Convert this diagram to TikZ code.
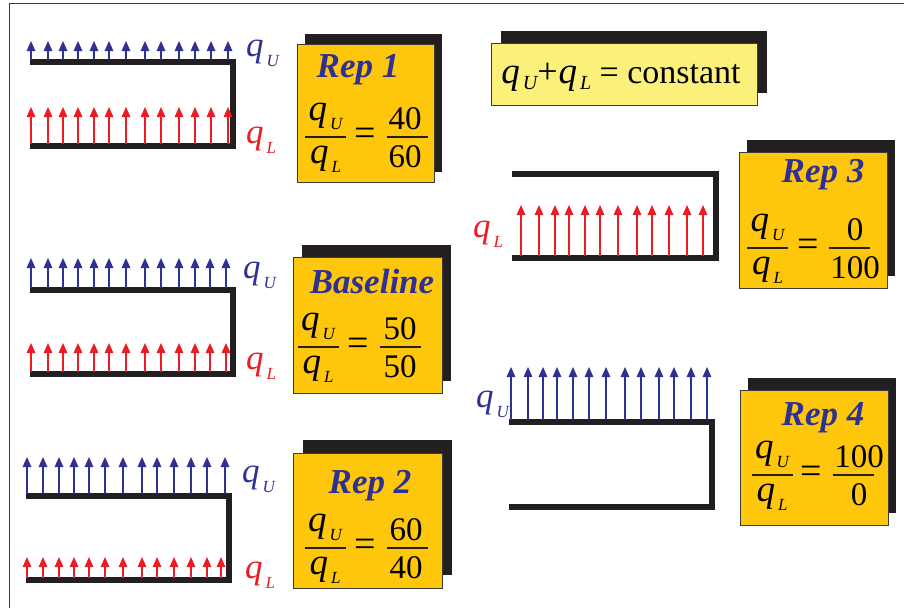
\documentclass[tikz,border=0pt]{standalone}
\usepackage{fontspec}
\setmainfont{Liberation Serif}
\usetikzlibrary{arrows.meta}
\definecolor{qblue}{RGB}{46,49,146}
\definecolor{qred}{RGB}{237,28,36}
\definecolor{barblk}{RGB}{35,31,32}
\definecolor{boxyel}{RGB}{255,199,12}
\definecolor{paleyel}{RGB}{250,240,122}
\definecolor{framegray}{RGB}{60,60,60}
\newcommand{\qsub}[4]{{\fontsize{#2}{#2}\selectfont\itshape q}\kern3pt\raisebox{-#4}{\fontsize{#3}{#3}\selectfont\itshape #1}}
\tikzset{
  wall/.style={line width=5.5pt, draw=barblk, line join=miter},
  upflux/.style={draw=qblue, line width=1.4pt, -{Triangle[length=10pt,width=8.5pt]}},
  loflux/.style={draw=qred, line width=1.4pt, -{Triangle[length=10pt,width=8.5pt]}},
  shadowbox/.style={fill=barblk},
  repbox/.style={fill=boxyel, draw=framegray, line width=0.8pt},
  constbox/.style={fill=paleyel, draw=framegray, line width=0.8pt},
  titletext/.style={text=qblue, font=\fontsize{35}{35}\selectfont\bfseries\itshape, anchor=base, inner sep=0pt},
  numtext/.style={font=\fontsize{33}{33}\selectfont, anchor=base, inner sep=0pt},
  eqtext/.style={font=\fontsize{38}{38}\selectfont, anchor=center, inner sep=0pt},
  qtext/.style={anchor=base, inner sep=0pt},
  ulabel/.style={text=qblue, anchor=base west, inner sep=0pt},
  llabel/.style={text=qred, anchor=base west, inner sep=0pt},
  fracbar/.style={line width=1.2pt, draw=barblk},
}
% #1 prefix, #2 bar y, #3 left centre x, #4 eq x, #5 right bar centre x, #6 number centre x, #7 num, #8 den
\newcommand{\ratio}[8]{%
  \draw[fracbar] ({#3-20.5},#2) -- ({#3+20.5},#2);
  \draw[fracbar] ({#5-20.5},#2) -- ({#5+20.5},#2);
  \node[qtext] (#1qu) at (#3,{#2-17}) {\qsub{U}{37}{17}{9pt}};
  \node[qtext] (#1ql) at (#3,{#2+26}) {\qsub{L}{37}{17}{9pt}};
  \node[eqtext] (#1eq) at (#4,#2) {=};
  \node[numtext] (#1n) at (#6,{#2-8}) {#7};
  \node[numtext] (#1d) at (#6,{#2+30}) {#8};
}
% #1 x1, #2 y1, #3 x2, #4 y2, #5 dx, #6 dy, #7 style
\newcommand{\shbox}[7]{%
  \fill[shadowbox] ({#1+#5},{#2+#6}) rectangle ({#3+#5},{#4+#6});
  \draw[#7] (#1,#2) rectangle (#3,#4);
}
\begin{document}
\begin{tikzpicture}[x=1pt,y=-1pt]
\useasboundingbox (0,0) rectangle (904,608);
\fill[white] (0,0) rectangle (904,608);
\draw[draw=framegray, line width=1pt] (9,608) -- (9,3) -- (904,3);

% ---------- Group Rep 1 ----------
\draw[wall] (30,62) -- (233,62) -- (233,146) -- (30,146);
\foreach \x in {31,48,63,78,94,109,126,145,161,179,195,211,228}{
  \draw[upflux] (\x,59.5) -- (\x,41);
  \draw[loflux] (\x,143.5) -- (\x,107);
}
\node[ulabel] (g1u) at (246,56) {\qsub{U}{35}{17}{10pt}};
\node[llabel] (g1l) at (246,143) {\qsub{L}{35}{17}{10pt}};
\shbox{297}{44}{434}{182}{8}{-10}{repbox}
\node[titletext] (t1) at (358,77) {Rep 1};
\ratio{r1}{137}{325.5}{365}{407}{405}{40}{60}

% ---------- Group Baseline ----------
\draw[wall] (30,290) -- (233,290) -- (233,374) -- (30,374);
\foreach \x in {31,48,63,78,94,109,126,145,161,179,195,210,226}{
  \draw[upflux] (\x,287.5) -- (\x,258);
  \draw[loflux] (\x,371.5) -- (\x,343);
}
\node[ulabel] (gbu) at (243,278) {\qsub{U}{35}{17}{10pt}};
\node[llabel] (gbl) at (246,369) {\qsub{L}{35}{17}{10pt}};
\shbox{293}{257}{442}{393}{9}{-12}{repbox}
\node[titletext] (tb) at (372,293) {Baseline};
\ratio{rb}{347}{318}{358}{400}{400}{50}{50}

% ---------- Group Rep 2 ----------
\draw[wall] (26,496) -- (229,496) -- (229,580) -- (26,580);
\foreach \x in {27,43,59,74,89,105,123,142,157,174,191,207,225}{
  \draw[upflux] (\x,493.5) -- (\x,457);
}
\foreach \x in {27,43,59,74,89,105,123,142,157,174,191,207,221}{
  \draw[loflux] (\x,577.5) -- (\x,557);
}
\node[ulabel] (g2u) at (242,482) {\qsub{U}{35}{17}{10pt}};
\node[llabel] (g2l) at (245,578) {\qsub{L}{35}{17}{10pt}};
\shbox{293}{453}{442}{588}{10}{-13}{repbox}
\node[titletext] (t2) at (370,493) {Rep 2};
\ratio{r2}{548}{325}{365}{407}{406}{60}{40}

% ---------- Constant ----------
\shbox{491}{43}{757}{105}{10}{-12}{constbox}
\node[anchor=base, inner sep=0pt] (cst) at (621,83)
  {\qsub{U}{37}{20}{6pt}{\fontsize{36}{36}\selectfont+}\kern1pt\qsub{L}{37}{20}{6pt}{\fontsize{34}{34}\selectfont\ = constant}};

% ---------- Group Rep 3 ----------
\draw[wall] (512,174) -- (716,174) -- (716,258) -- (512,258);
\foreach \x in {521,539,555,569,585,600,618,637,652,669,687,703}{
  \draw[loflux] (\x,255.5) -- (\x,205);
}
\node[llabel] (g3l) at (473,237) {\qsub{L}{35}{17}{10pt}};
\shbox{739}{152}{887}{288}{8}{-12}{repbox}
\node[titletext] (t3) at (823,182) {Rep 3};
\ratio{r3}{248}{767.5}{808}{849.5}{855}{0}{100}

% ---------- Group Rep 4 ----------
\draw[wall] (509,422) -- (712,422) -- (712,507) -- (509,507);
\foreach \x in {511,528,543,557,573,589,606,625,641,659,674,691,707}{
  \draw[upflux] (\x,419.5) -- (\x,367);
}
\node[ulabel] (g4u) at (476,407) {\qsub{U}{35}{17}{10pt}};
\shbox{740}{390}{888}{525}{8}{-12}{repbox}
\node[titletext] (t4) at (823,425) {Rep 4};
\ratio{r4}{475}{772}{811}{853}{859}{100}{0}
\end{tikzpicture}
\end{document}
